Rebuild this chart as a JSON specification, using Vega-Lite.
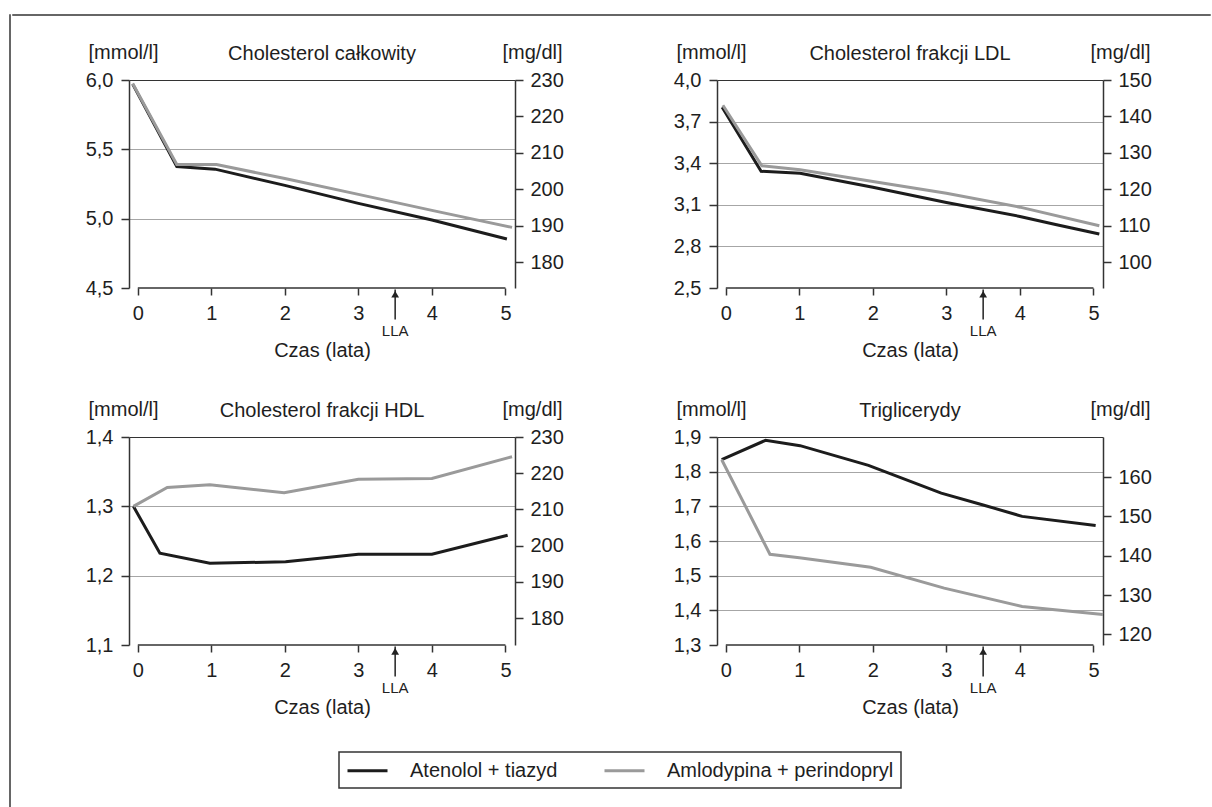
{
  "$schema": "https://vega.github.io/schema/vega-lite/v6.json",
  "padding": {"left": 8, "top": 8, "right": 0, "bottom": 0},
  "datasets": {
    "d": [
      {"p":"tc","g":"Atenolol + tiazyd","x":-0.07,"y":5.97},
      {"p":"tc","g":"Atenolol + tiazyd","x":0.53,"y":5.376},
      {"p":"tc","g":"Atenolol + tiazyd","x":1.05,"y":5.357},
      {"p":"tc","g":"Atenolol + tiazyd","x":2,"y":5.24},
      {"p":"tc","g":"Atenolol + tiazyd","x":3,"y":5.11},
      {"p":"tc","g":"Atenolol + tiazyd","x":4,"y":4.99},
      {"p":"tc","g":"Atenolol + tiazyd","x":5.02,"y":4.853},
      {"p":"tc","g":"Amlodypina + perindopryl","x":-0.07,"y":5.975},
      {"p":"tc","g":"Amlodypina + perindopryl","x":0.53,"y":5.39},
      {"p":"tc","g":"Amlodypina + perindopryl","x":1.07,"y":5.39},
      {"p":"tc","g":"Amlodypina + perindopryl","x":2,"y":5.29},
      {"p":"tc","g":"Amlodypina + perindopryl","x":3,"y":5.175},
      {"p":"tc","g":"Amlodypina + perindopryl","x":4,"y":5.06},
      {"p":"tc","g":"Amlodypina + perindopryl","x":5.09,"y":4.937},
      {"p":"ldl","g":"Atenolol + tiazyd","x":-0.05,"y":3.803},
      {"p":"ldl","g":"Atenolol + tiazyd","x":0.48,"y":3.342},
      {"p":"ldl","g":"Atenolol + tiazyd","x":1.01,"y":3.328},
      {"p":"ldl","g":"Atenolol + tiazyd","x":2,"y":3.227},
      {"p":"ldl","g":"Atenolol + tiazyd","x":3,"y":3.117},
      {"p":"ldl","g":"Atenolol + tiazyd","x":4,"y":3.016},
      {"p":"ldl","g":"Atenolol + tiazyd","x":4.5,"y":2.956},
      {"p":"ldl","g":"Atenolol + tiazyd","x":5.08,"y":2.889},
      {"p":"ldl","g":"Amlodypina + perindopryl","x":-0.04,"y":3.818},
      {"p":"ldl","g":"Amlodypina + perindopryl","x":0.49,"y":3.381},
      {"p":"ldl","g":"Amlodypina + perindopryl","x":1.01,"y":3.352},
      {"p":"ldl","g":"Amlodypina + perindopryl","x":2,"y":3.268},
      {"p":"ldl","g":"Amlodypina + perindopryl","x":3,"y":3.184},
      {"p":"ldl","g":"Amlodypina + perindopryl","x":4,"y":3.083},
      {"p":"ldl","g":"Amlodypina + perindopryl","x":5.08,"y":2.949},
      {"p":"hdl","g":"Atenolol + tiazyd","x":-0.06,"y":1.3},
      {"p":"hdl","g":"Atenolol + tiazyd","x":0.3,"y":1.2325},
      {"p":"hdl","g":"Atenolol + tiazyd","x":0.98,"y":1.218},
      {"p":"hdl","g":"Atenolol + tiazyd","x":2.01,"y":1.22},
      {"p":"hdl","g":"Atenolol + tiazyd","x":3,"y":1.231},
      {"p":"hdl","g":"Atenolol + tiazyd","x":4,"y":1.231},
      {"p":"hdl","g":"Atenolol + tiazyd","x":5.03,"y":1.2584},
      {"p":"hdl","g":"Amlodypina + perindopryl","x":-0.06,"y":1.3},
      {"p":"hdl","g":"Amlodypina + perindopryl","x":0.4,"y":1.3273},
      {"p":"hdl","g":"Amlodypina + perindopryl","x":0.98,"y":1.3312},
      {"p":"hdl","g":"Amlodypina + perindopryl","x":1.99,"y":1.3196},
      {"p":"hdl","g":"Amlodypina + perindopryl","x":3,"y":1.3389},
      {"p":"hdl","g":"Amlodypina + perindopryl","x":4,"y":1.3403},
      {"p":"hdl","g":"Amlodypina + perindopryl","x":5.09,"y":1.3716},
      {"p":"tg","g":"Atenolol + tiazyd","x":-0.056,"y":1.8345},
      {"p":"tg","g":"Atenolol + tiazyd","x":0.54,"y":1.8904},
      {"p":"tg","g":"Atenolol + tiazyd","x":1.01,"y":1.875},
      {"p":"tg","g":"Atenolol + tiazyd","x":1.94,"y":1.818},
      {"p":"tg","g":"Atenolol + tiazyd","x":2.93,"y":1.738},
      {"p":"tg","g":"Atenolol + tiazyd","x":3.5,"y":1.704},
      {"p":"tg","g":"Atenolol + tiazyd","x":4.03,"y":1.671},
      {"p":"tg","g":"Atenolol + tiazyd","x":5.03,"y":1.645},
      {"p":"tg","g":"Amlodypina + perindopryl","x":-0.056,"y":1.8345},
      {"p":"tg","g":"Amlodypina + perindopryl","x":0.6,"y":1.5618},
      {"p":"tg","g":"Amlodypina + perindopryl","x":1.0,"y":1.552},
      {"p":"tg","g":"Amlodypina + perindopryl","x":1.97,"y":1.524},
      {"p":"tg","g":"Amlodypina + perindopryl","x":2.97,"y":1.464},
      {"p":"tg","g":"Amlodypina + perindopryl","x":4.03,"y":1.411},
      {"p":"tg","g":"Amlodypina + perindopryl","x":5.13,"y":1.388}
    ]
  },
  "spacing": 0,
  "hconcat": [
    {"width": 1, "height": 796, "data": {"values": [{}]}, "mark": {"type": "text", "text": ""}, "view": {"stroke": "#666", "strokeWidth": 1}},
    {
      "spacing": 22,
      "vconcat": [
        {"width": 1198, "height": 1, "data": {"values": [{}]}, "mark": {"type": "text", "text": ""}, "view": {"stroke": "#666", "strokeWidth": 1}},
        {
          "spacing": 6,
          "hconcat": [
            {"width": 67, "height": 1, "data": {"values": [{}]}, "mark": {"type": "text", "text": ""}},
            {
              "columns": 2,
              "spacing": {"row": 39, "column": 109},
              "concat": [
                {
                  "width": 386, "height": 208,
                  "title": {"text": "Cholesterol całkowity"},
                  "layer": [
                    {"layer": [
                      {"data": {"name": "d"}, "transform": [{"filter": "datum.p === 'tc'"}],
                       "mark": {"type": "line", "strokeWidth": 3},
                       "encoding": {
                         "x": {"field": "x", "type": "quantitative", "scale": {"domain": [-0.12, 5.13], "nice": false, "zero": false},
                               "axis": {"values": [0,1,2,3,4,5], "tickCount": 10, "format": "d", "domain": false, "tickSize": 7, "labelPadding": 8, "labelFlush": false, "grid": false, "title": "Czas (lata)", "titlePadding": 17}},
                         "y": {"field": "y", "type": "quantitative", "scale": {"domain": [4.5, 6.0], "nice": false, "zero": false},
                               "axis": {"values": [4.5,5,5.5,6], "tickCount": 10, "labelExpr": "replace(format(datum.value, '.1f'), '.', ',')", "labelOverlap": false, "tickSize": 8, "labelPadding": 8, "title": "[mmol/l]", "titleAngle": 0, "titleAlign": "center", "titleBaseline": "middle", "titleX": -6, "titleY": -28, "grid": true,
                                        "gridColor": {"condition": {"test": "datum.value > 5.95", "value": "#333"}, "value": "#a6a6a6"},
                                        "gridOpacity": {"condition": {"test": "datum.value < 4.55", "value": 0}, "value": 1}}},
                         "color": {"field": "g", "type": "nominal", "scale": {"domain": ["Atenolol + tiazyd", "Amlodypina + perindopryl"], "range": ["#1c1c1c", "#9a9a9a"]},
                                   "legend": {"orient": "none", "legendX": 330, "legendY": 738, "direction": "horizontal", "title": null}}
                       }},
                      {"data": {"values": [{}]}, "mark": {"type": "rule", "color": "#333", "strokeWidth": 1.5},
                       "encoding": {"x": {"datum": 0, "type": "quantitative"}, "x2": {"datum": 5}, "y": {"datum": 4.5, "type": "quantitative"}}},
                      {"data": {"values": [{}]}, "mark": {"type": "rule", "color": "#222", "strokeWidth": 1.5},
                       "encoding": {"x": {"datum": 3.5, "type": "quantitative"}, "y": {"datum": 4.273, "type": "quantitative"}, "y2": {"datum": 4.49}}},
                      {"data": {"values": [{}]}, "mark": {"type": "point", "shape": "triangle-up", "filled": true, "color": "#222", "size": 60, "opacity": 1},
                       "encoding": {"x": {"datum": 3.5, "type": "quantitative"}, "y": {"datum": 4.455, "type": "quantitative"}}},
                      {"data": {"values": [{}]}, "mark": {"type": "text", "text": "LLA", "fontSize": 15, "color": "#222", "baseline": "middle", "align": "center"},
                       "encoding": {"x": {"datum": 3.5, "type": "quantitative"}, "y": {"datum": 4.19, "type": "quantitative"}}}
                    ]},
                    {"data": {"values": [{}]}, "mark": {"type": "rule", "opacity": 0},
                     "encoding": {"y": {"datum": 200, "type": "quantitative", "scale": {"domain": [173, 230], "nice": false, "zero": false},
                                        "axis": {"orient": "right", "values": [180,190,200,210,220,230], "tickCount": 10, "format": "d", "labelOverlap": false, "tickSize": 8, "labelPadding": 7, "grid": false, "title": "[mg/dl]", "titleAngle": 0, "titleAlign": "center", "titleBaseline": "middle", "titleX": 17, "titleY": -28}}}}
                  ],
                  "resolve": {"scale": {"y": "independent"}}
                },
                {
                  "width": 386, "height": 208,
                  "title": {"text": "Cholesterol frakcji LDL"},
                  "layer": [
                    {"layer": [
                      {"data": {"name": "d"}, "transform": [{"filter": "datum.p === 'ldl'"}],
                       "mark": {"type": "line", "strokeWidth": 3},
                       "encoding": {
                         "x": {"field": "x", "type": "quantitative", "scale": {"domain": [-0.12, 5.13], "nice": false, "zero": false},
                               "axis": {"values": [0,1,2,3,4,5], "tickCount": 10, "format": "d", "domain": false, "tickSize": 7, "labelPadding": 8, "labelFlush": false, "grid": false, "title": "Czas (lata)", "titlePadding": 17}},
                         "y": {"field": "y", "type": "quantitative", "scale": {"domain": [2.5, 4.0], "nice": false, "zero": false},
                               "axis": {"values": [2.5,2.8,3.1,3.4,3.7,4.0], "tickCount": 10, "labelExpr": "replace(format(datum.value, '.1f'), '.', ',')", "labelOverlap": false, "tickSize": 8, "labelPadding": 8, "title": "[mmol/l]", "titleAngle": 0, "titleAlign": "center", "titleBaseline": "middle", "titleX": -6, "titleY": -28, "grid": true,
                                        "gridColor": {"condition": {"test": "datum.value > 3.95", "value": "#333"}, "value": "#a6a6a6"},
                                        "gridOpacity": {"condition": {"test": "datum.value < 2.55", "value": 0}, "value": 1}}},
                         "color": {"field": "g", "type": "nominal", "scale": {"domain": ["Atenolol + tiazyd", "Amlodypina + perindopryl"], "range": ["#1c1c1c", "#9a9a9a"]},
                                   "legend": {"orient": "none", "legendX": 330, "legendY": 738, "direction": "horizontal", "title": null}}
                       }},
                      {"data": {"values": [{}]}, "mark": {"type": "rule", "color": "#333", "strokeWidth": 1.5},
                       "encoding": {"x": {"datum": 0, "type": "quantitative"}, "x2": {"datum": 5}, "y": {"datum": 2.5, "type": "quantitative"}}},
                      {"data": {"values": [{}]}, "mark": {"type": "rule", "color": "#222", "strokeWidth": 1.5},
                       "encoding": {"x": {"datum": 3.5, "type": "quantitative"}, "y": {"datum": 2.273, "type": "quantitative"}, "y2": {"datum": 2.49}}},
                      {"data": {"values": [{}]}, "mark": {"type": "point", "shape": "triangle-up", "filled": true, "color": "#222", "size": 60, "opacity": 1},
                       "encoding": {"x": {"datum": 3.5, "type": "quantitative"}, "y": {"datum": 2.455, "type": "quantitative"}}},
                      {"data": {"values": [{}]}, "mark": {"type": "text", "text": "LLA", "fontSize": 15, "color": "#222", "baseline": "middle", "align": "center"},
                       "encoding": {"x": {"datum": 3.5, "type": "quantitative"}, "y": {"datum": 2.19, "type": "quantitative"}}}
                    ]},
                    {"data": {"values": [{}]}, "mark": {"type": "rule", "opacity": 0},
                     "encoding": {"y": {"datum": 120, "type": "quantitative", "scale": {"domain": [92.9, 150], "nice": false, "zero": false},
                                        "axis": {"orient": "right", "values": [100,110,120,130,140,150], "tickCount": 10, "format": "d", "labelOverlap": false, "tickSize": 8, "labelPadding": 7, "grid": false, "title": "[mg/dl]", "titleAngle": 0, "titleAlign": "center", "titleBaseline": "middle", "titleX": 17, "titleY": -28}}}}
                  ],
                  "resolve": {"scale": {"y": "independent"}}
                },
                {
                  "width": 386, "height": 208,
                  "title": {"text": "Cholesterol frakcji HDL"},
                  "layer": [
                    {"layer": [
                      {"data": {"name": "d"}, "transform": [{"filter": "datum.p === 'hdl'"}],
                       "mark": {"type": "line", "strokeWidth": 3},
                       "encoding": {
                         "x": {"field": "x", "type": "quantitative", "scale": {"domain": [-0.12, 5.13], "nice": false, "zero": false},
                               "axis": {"values": [0,1,2,3,4,5], "tickCount": 10, "format": "d", "domain": false, "tickSize": 7, "labelPadding": 8, "labelFlush": false, "grid": false, "title": "Czas (lata)", "titlePadding": 17}},
                         "y": {"field": "y", "type": "quantitative", "scale": {"domain": [1.1, 1.4], "nice": false, "zero": false},
                               "axis": {"values": [1.1,1.2,1.3,1.4], "tickCount": 10, "labelExpr": "replace(format(datum.value, '.1f'), '.', ',')", "labelOverlap": false, "tickSize": 8, "labelPadding": 8, "title": "[mmol/l]", "titleAngle": 0, "titleAlign": "center", "titleBaseline": "middle", "titleX": -6, "titleY": -28, "grid": true,
                                        "gridColor": {"condition": {"test": "datum.value > 1.39", "value": "#333"}, "value": "#a6a6a6"},
                                        "gridOpacity": {"condition": {"test": "datum.value < 1.11", "value": 0}, "value": 1}}},
                         "color": {"field": "g", "type": "nominal", "scale": {"domain": ["Atenolol + tiazyd", "Amlodypina + perindopryl"], "range": ["#1c1c1c", "#9a9a9a"]},
                                   "legend": {"orient": "none", "legendX": 330, "legendY": 738, "direction": "horizontal", "title": null}}
                       }},
                      {"data": {"values": [{}]}, "mark": {"type": "rule", "color": "#333", "strokeWidth": 1.5},
                       "encoding": {"x": {"datum": 0, "type": "quantitative"}, "x2": {"datum": 5}, "y": {"datum": 1.1, "type": "quantitative"}}},
                      {"data": {"values": [{}]}, "mark": {"type": "rule", "color": "#222", "strokeWidth": 1.5},
                       "encoding": {"x": {"datum": 3.5, "type": "quantitative"}, "y": {"datum": 1.0546, "type": "quantitative"}, "y2": {"datum": 1.098}}},
                      {"data": {"values": [{}]}, "mark": {"type": "point", "shape": "triangle-up", "filled": true, "color": "#222", "size": 60, "opacity": 1},
                       "encoding": {"x": {"datum": 3.5, "type": "quantitative"}, "y": {"datum": 1.0909, "type": "quantitative"}}},
                      {"data": {"values": [{}]}, "mark": {"type": "text", "text": "LLA", "fontSize": 15, "color": "#222", "baseline": "middle", "align": "center"},
                       "encoding": {"x": {"datum": 3.5, "type": "quantitative"}, "y": {"datum": 1.038, "type": "quantitative"}}}
                    ]},
                    {"data": {"values": [{}]}, "mark": {"type": "rule", "opacity": 0},
                     "encoding": {"y": {"datum": 200, "type": "quantitative", "scale": {"domain": [172.6, 230], "nice": false, "zero": false},
                                        "axis": {"orient": "right", "values": [180,190,200,210,220,230], "tickCount": 10, "format": "d", "labelOverlap": false, "tickSize": 8, "labelPadding": 7, "grid": false, "title": "[mg/dl]", "titleAngle": 0, "titleAlign": "center", "titleBaseline": "middle", "titleX": 17, "titleY": -28}}}}
                  ],
                  "resolve": {"scale": {"y": "independent"}}
                },
                {
                  "width": 386, "height": 208,
                  "title": {"text": "Triglicerydy"},
                  "layer": [
                    {"layer": [
                      {"data": {"name": "d"}, "transform": [{"filter": "datum.p === 'tg'"}],
                       "mark": {"type": "line", "strokeWidth": 3},
                       "encoding": {
                         "x": {"field": "x", "type": "quantitative", "scale": {"domain": [-0.12, 5.13], "nice": false, "zero": false},
                               "axis": {"values": [0,1,2,3,4,5], "tickCount": 10, "format": "d", "domain": false, "tickSize": 7, "labelPadding": 8, "labelFlush": false, "grid": false, "title": "Czas (lata)", "titlePadding": 17}},
                         "y": {"field": "y", "type": "quantitative", "scale": {"domain": [1.3, 1.9], "nice": false, "zero": false},
                               "axis": {"values": [1.3,1.4,1.5,1.6,1.7,1.8,1.9], "tickCount": 10, "labelExpr": "replace(format(datum.value, '.1f'), '.', ',')", "labelOverlap": false, "tickSize": 8, "labelPadding": 8, "title": "[mmol/l]", "titleAngle": 0, "titleAlign": "center", "titleBaseline": "middle", "titleX": -6, "titleY": -28, "grid": true,
                                        "gridColor": {"condition": {"test": "datum.value > 1.89", "value": "#333"}, "value": "#a6a6a6"},
                                        "gridOpacity": {"condition": {"test": "datum.value < 1.31", "value": 0}, "value": 1}}},
                         "color": {"field": "g", "type": "nominal", "scale": {"domain": ["Atenolol + tiazyd", "Amlodypina + perindopryl"], "range": ["#1c1c1c", "#9a9a9a"]},
                                   "legend": {"orient": "none", "legendX": 330, "legendY": 738, "direction": "horizontal", "title": null}}
                       }},
                      {"data": {"values": [{}]}, "mark": {"type": "rule", "color": "#333", "strokeWidth": 1.5},
                       "encoding": {"x": {"datum": 0, "type": "quantitative"}, "x2": {"datum": 5}, "y": {"datum": 1.3, "type": "quantitative"}}},
                      {"data": {"values": [{}]}, "mark": {"type": "rule", "color": "#222", "strokeWidth": 1.5},
                       "encoding": {"x": {"datum": 3.5, "type": "quantitative"}, "y": {"datum": 1.2091, "type": "quantitative"}, "y2": {"datum": 1.296}}},
                      {"data": {"values": [{}]}, "mark": {"type": "point", "shape": "triangle-up", "filled": true, "color": "#222", "size": 60, "opacity": 1},
                       "encoding": {"x": {"datum": 3.5, "type": "quantitative"}, "y": {"datum": 1.2813, "type": "quantitative"}}},
                      {"data": {"values": [{}]}, "mark": {"type": "text", "text": "LLA", "fontSize": 15, "color": "#222", "baseline": "middle", "align": "center"},
                       "encoding": {"x": {"datum": 3.5, "type": "quantitative"}, "y": {"datum": 1.176, "type": "quantitative"}}}
                    ]},
                    {"data": {"values": [{}]}, "mark": {"type": "rule", "opacity": 0},
                     "encoding": {"y": {"datum": 140, "type": "quantitative", "scale": {"domain": [117.3, 170.2], "nice": false, "zero": false},
                                        "axis": {"orient": "right", "values": [120,130,140,150,160], "tickCount": 10, "format": "d", "labelOverlap": false, "tickSize": 8, "labelPadding": 7, "grid": false, "title": "[mg/dl]", "titleAngle": 0, "titleAlign": "center", "titleBaseline": "middle", "titleX": 17, "titleY": -28}}}}
                  ],
                  "resolve": {"scale": {"y": "independent"}}
                }
              ]
            }
          ]
        }
      ]
    }
  ],
  "config": {
    "font": "Liberation Sans",
    "view": {"stroke": null},
    "axis": {"labelFontSize": 20, "titleFontSize": 20, "titleFontWeight": "normal", "labelColor": "#1e1e1e", "titleColor": "#1e1e1e", "domainColor": "#333", "tickColor": "#333", "domainWidth": 1.5, "tickWidth": 1.5, "gridWidth": 1.2},
    "title": {"fontSize": 20, "fontWeight": "normal", "color": "#1e1e1e", "anchor": "middle", "frame": "group", "offset": -22},
    "legend": {"labelFontSize": 20, "labelColor": "#1e1e1e", "labelLimit": 400, "symbolType": "M-1,0H3", "symbolSize": 400, "symbolStrokeWidth": 3, "labelOffset": 41, "columnPadding": 40, "padding": 7, "strokeColor": "#333", "strokeWidth": 1.5}
  }
}
